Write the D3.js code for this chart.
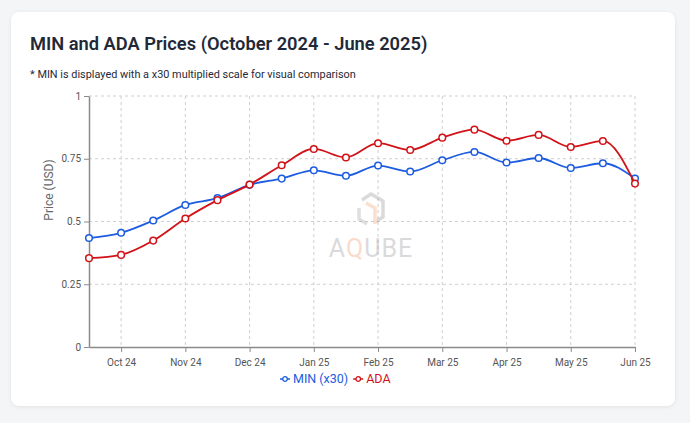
<!DOCTYPE html>
<html>
<head>
<meta charset="utf-8">
<script src="https://cdn.jsdelivr.net/npm/d3@7"></script>
<style>
  html, body { margin: 0; padding: 0; background: #f4f5f7; }
  body { width: 690px; height: 423px; overflow: hidden; font-family: Roboto, "Noto Sans", sans-serif; }
  #card {
    position: absolute; left: 11px; top: 12px; width: 664px; height: 394px;
    background: #fff; border-radius: 8px; box-shadow: 0 1px 4px rgba(0,0,0,0.08);
  }
  #chart { position: absolute; left: 0; top: 0; }
</style>
</head>
<body>
<div id="card"></div>
<div id="chart"></div>
<script>
// Half-month sample points, labels only on the 1st of each month
const dates = ["2024-09-15", "2024-10-01", "2024-10-15", "2024-11-01", "2024-11-15",
    "2024-12-01", "2024-12-15", "2025-01-01", "2025-01-15", "2025-02-01", "2025-02-15",
    "2025-03-01", "2025-03-15", "2025-04-01", "2025-04-15", "2025-05-01", "2025-05-15", "2025-06-01"];
const tickLabels = ["Oct 24", "Nov 24", "Dec 24", "Jan 25", "Feb 25", "Mar 25", "Apr 25", "May 25", "Jun 25"];

// MIN price multiplied by 30
const minX30 = [0.434, 0.455, 0.504, 0.566, 0.593, 0.646, 0.671, 0.704, 0.682, 0.723,
    0.699, 0.744, 0.777, 0.735, 0.753, 0.713, 0.732, 0.671];
const ada = [0.354, 0.367, 0.424, 0.512, 0.585, 0.647, 0.724, 0.789, 0.755, 0.812,
    0.785, 0.834, 0.866, 0.822, 0.845, 0.797, 0.821, 0.651];

const yTicks = [0, 0.25, 0.5, 0.75, 1];

const series = [
    {name: "MIN (x30)", values: minX30, color: "#1d5ce0"},
    {name: "ADA", values: ada, color: "#d21219"}
];

const width = 690, height = 423;
const margin = {left: 89, right: 55, top: 96, bottom: 76};
const font = "Roboto, 'Noto Sans', sans-serif";

const svg = d3.select("#chart").append("svg")
    .attr("width", width)
    .attr("height", height)
    .style("font-family", font);

// Title and note
svg.append("text")
    .attr("x", 30).attr("y", 50)
    .attr("font-size", 18.3).attr("font-weight", 600)
    .attr("fill", "#1f2937")
    .text("MIN and ADA Prices (October 2024 - June 2025)");

svg.append("text")
    .attr("x", 30).attr("y", 78)
    .attr("font-size", 10.9)
    .attr("fill", "#1f2937")
    .text("* MIN is displayed with a x30 multiplied scale for visual comparison");

const x = d3.scalePoint()
    .domain(dates)
    .range([margin.left, width - margin.right]);

const y = d3.scaleLinear()
    .domain([0, 1])
    .range([height - margin.bottom, margin.top]);

const labelDates = dates.filter(d => d.endsWith("-01"));
const labelOf = d3.scaleOrdinal().domain(labelDates).range(tickLabels);

// Grid
const grid = svg.append("g")
    .attr("stroke", "#cfcfcf")
    .attr("stroke-dasharray", "3,3")
    .attr("stroke-width", 1);

grid.selectAll(".gx")
    .data(labelDates)
    .join("line")
    .attr("x1", d => x(d)).attr("x2", d => x(d))
    .attr("y1", y(1)).attr("y2", y(0));

grid.selectAll(".gy")
    .data(yTicks.filter(d => d > 0))
    .join("line")
    .attr("x1", x.range()[0]).attr("x2", x.range()[1])
    .attr("y1", d => y(d)).attr("y2", d => y(d));

// Watermark
const wm = svg.append("g").attr("opacity", 0.3);
const cx = 371, cy = 213;
wm.append("path")
    .attr("d", `M${cx - 9},${cy - 13} L${cx},${cy - 19} L${cx + 12},${cy - 12} L${cx + 12},${cy + 4} L${cx + 4},${cy + 9}`)
    .attr("fill", "none").attr("stroke", "#888").attr("stroke-width", 3.5);
wm.append("path")
    .attr("d", `M${cx - 12},${cy - 5} L${cx - 12},${cy + 6} L${cx - 4},${cy + 11}`)
    .attr("fill", "none").attr("stroke", "#999").attr("stroke-width", 3.5);
wm.append("path")
    .attr("d", `M${cx - 5},${cy - 10} L${cx + 4},${cy - 5} L${cx + 4},${cy + 11}`)
    .attr("fill", "none").attr("stroke", "#f29a66").attr("stroke-width", 3.5);
const wmText = wm.append("text")
    .attr("x", 371).attr("y", 257)
    .attr("text-anchor", "middle")
    .attr("font-size", 25)
    .attr("letter-spacing", 1)
    .attr("fill", "#888");
wmText.append("tspan").text("A");
wmText.append("tspan").attr("fill", "#f08a55").text("Q");
wmText.append("tspan").text("UBE");

// Axes
const xAxis = svg.append("g")
    .attr("transform", `translate(0,${y(0)})`)
    .call(d3.axisBottom(x).tickValues(labelDates).tickFormat(d => labelOf(d)).tickSize(5).tickSizeOuter(0));

const yAxis = svg.append("g")
    .attr("transform", `translate(${margin.left},0)`)
    .call(d3.axisLeft(y).tickValues(yTicks).tickFormat(d3.format("")).tickSize(5).tickSizeOuter(0));

[xAxis, yAxis].forEach(a => {
    a.select(".domain").attr("stroke", "#8a8a8a").attr("stroke-width", 1.5);
    a.selectAll(".tick line").attr("stroke", "#8a8a8a");
    a.selectAll(".tick text")
        .attr("fill", "#555")
        .attr("font-size", 10)
        .attr("font-family", font);
});
xAxis.selectAll(".tick text").attr("dy", "1.05em");

svg.append("text")
    .attr("transform", "translate(53,190) rotate(-90)")
    .attr("text-anchor", "middle")
    .attr("font-size", 12)
    .attr("fill", "#666")
    .text("Price (USD)");

// Lines
const line = d3.line()
    .x((d, i) => x(dates[i]))
    .y(d => y(d))
    .curve(d3.curveMonotoneX);

series.forEach(s => {
    svg.append("path")
        .datum(s.values)
        .attr("fill", "none")
        .attr("stroke", s.color)
        .attr("stroke-width", 1.8)
        .attr("d", line);
    svg.append("g")
        .selectAll("circle")
        .data(s.values)
        .join("circle")
        .attr("cx", (d, i) => x(dates[i]))
        .attr("cy", d => y(d))
        .attr("r", 3.3)
        .attr("fill", "#fff")
        .attr("stroke", s.color)
        .attr("stroke-width", 1.5);
});

// Legend
const legend = svg.append("g").attr("transform", "translate(280,379)");
let lx = 0;
series.forEach(s => {
    const g = legend.append("g").attr("transform", `translate(${lx},0)`);
    g.append("line").attr("x1", 0).attr("x2", 10).attr("stroke", s.color).attr("stroke-width", 1.5);
    g.append("circle").attr("cx", 5).attr("r", 2.3).attr("fill", "#fff").attr("stroke", s.color).attr("stroke-width", 1.3);
    const t = g.append("text")
        .attr("x", 13).attr("dy", "0.35em")
        .attr("font-size", 12.5)
        .attr("fill", s.color)
        .text(s.name);
    lx += 13 + t.node().getComputedTextLength() + 5;
});
</script>
</body>
</html>
